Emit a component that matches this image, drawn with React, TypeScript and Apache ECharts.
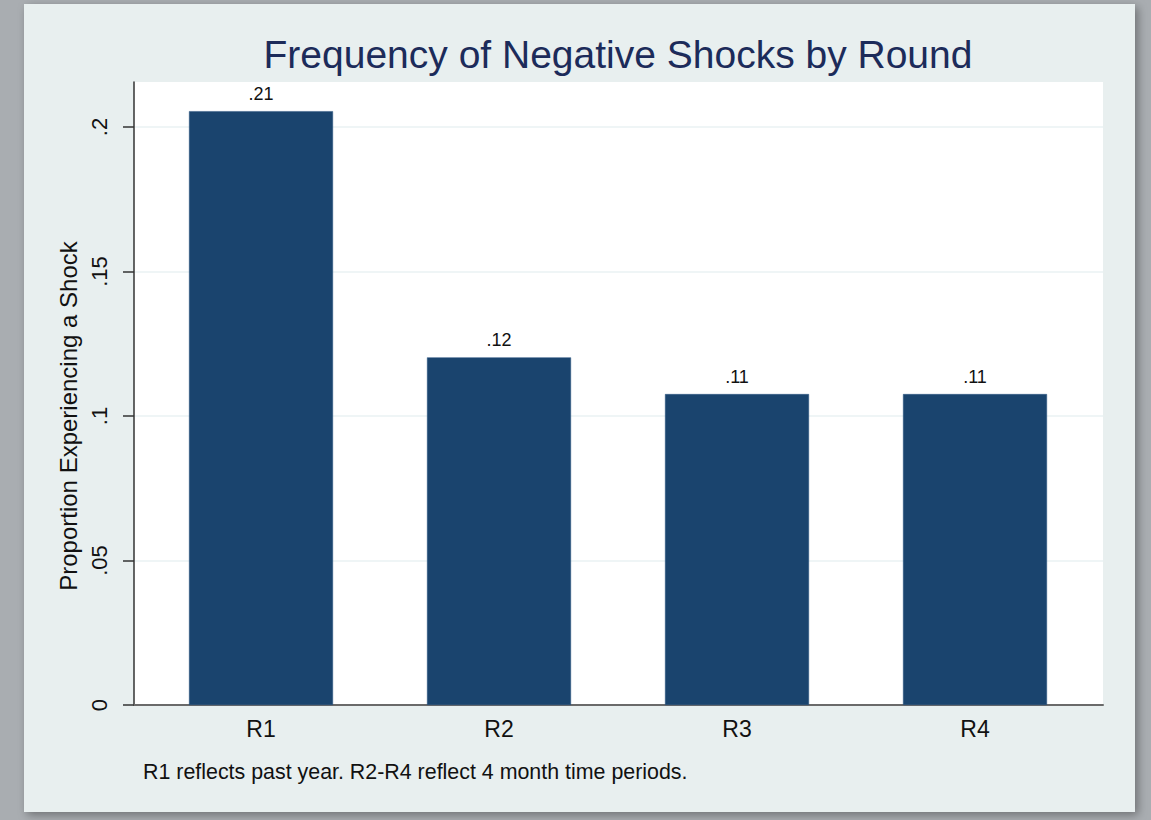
import React, { useEffect, useRef } from "react";
import * as echarts from "echarts";

const categories = ["R1", "R2", "R3", "R4"];
const shockShare = [0.2055, 0.1203, 0.1076, 0.1076];
const yTicks = [0, 0.05, 0.1, 0.15, 0.2];
const yAxisTop = 0.2156;
const titleText = "Frequency of Negative Shocks by Round";
const noteText = "R1 reflects past year. R2-R4 reflect 4 month time periods.";
const yName = "Proportion Experiencing a Shock";

const FONT = "'Liberation Sans', Arial, Helvetica, sans-serif";

const fmt = (v: number) => {
  const s = Number(v.toFixed(2)).toString();
  return s.replace(/^0\./, ".");
};

export default function App() {
  const ref = useRef<HTMLDivElement>(null);
  useEffect(() => {
    if (!ref.current) return;
    const chart = echarts.init(ref.current, undefined, { renderer: "svg" });
    const tickMax = yTicks[yTicks.length - 1];
    const tickStep = yTicks[1] - yTicks[0];
    chart.setOption({
      animation: false,
      backgroundColor: "#a9adb1",
      graphic: [
        {
          type: "rect",
          shape: { x: 24, y: 4, width: 1111, height: 808 },
          style: {
            fill: "#e8efef",
            shadowBlur: 10,
            shadowColor: "rgba(0,0,0,0.35)",
            shadowOffsetX: 3,
            shadowOffsetY: 3,
          },
          z: -10,
          silent: true,
        },
      ],
      title: [
        {
          text: titleText,
          left: 613,
          top: 30,
          textAlign: "center",
          textStyle: {
            fontFamily: FONT,
            fontSize: 39,
            fontWeight: "normal",
            color: "#1c2b5a",
          },
        },
        {
          text: noteText,
          left: 138,
          top: 756,
          textStyle: {
            fontFamily: FONT,
            fontSize: 21.4,
            fontWeight: "normal",
            color: "#111",
          },
        },
      ],
      grid: [
        {
          left: 134,
          top: 82,
          width: 969,
          height: 623,
          show: true,
          backgroundColor: "#ffffff",
          borderWidth: 0,
        },
        { left: 134, top: 127, width: 969, height: 578 },
        { left: 142, top: 82, width: 952, height: 623 },
      ],
      xAxis: [
        {
          gridIndex: 0,
          type: "value",
          min: 0,
          max: 1,
          axisLine: { show: true, lineStyle: { color: "#6a6a6a", width: 2 } },
          axisTick: { show: false },
          axisLabel: { show: false },
          splitLine: { show: false },
        },
        { gridIndex: 1, type: "value", min: 0, max: 1, show: false },
        {
          gridIndex: 2,
          type: "category",
          data: categories,
          axisLine: { show: false },
          axisTick: { show: false },
          axisLabel: {
            fontFamily: FONT,
            fontSize: 23,
            color: "#111",
            margin: 12,
          },
        },
      ],
      yAxis: [
        {
          gridIndex: 0,
          type: "value",
          min: 0,
          max: yAxisTop,
          axisLine: { show: true, lineStyle: { color: "#333", width: 1.5 } },
          axisTick: { show: false },
          axisLabel: { show: false },
          splitLine: { show: false },
        },
        {
          gridIndex: 1,
          type: "value",
          min: 0,
          max: tickMax,
          interval: tickStep,
          axisLine: { show: false },
          axisTick: {
            show: true,
            length: 11,
            lineStyle: { color: "#333", width: 1.5 },
          },
          axisLabel: {
            rotate: 90,
            margin: 24,
            fontFamily: FONT,
            fontSize: 22,
            color: "#111",
            formatter: (v: number) => fmt(v),
          },
          splitLine: { show: true, lineStyle: { color: "#eaf2f3", width: 1.5 } },
          name: yName,
          nameLocation: "middle",
          nameGap: 50,
          nameTextStyle: { fontFamily: FONT, fontSize: 24, color: "#111" },
        },
        { gridIndex: 2, type: "value", min: 0, max: yAxisTop, show: false },
      ],
      series: [
        {
          type: "bar",
          xAxisIndex: 2,
          yAxisIndex: 2,
          data: shockShare,
          barWidth: 144,
          itemStyle: { color: "#1a446e", borderColor: "#2a5580", borderWidth: 0.5 },
          label: {
            show: true,
            position: "top",
            distance: 8,
            fontFamily: FONT,
            fontSize: 18,
            color: "#111",
            formatter: (p: any) => fmt(p.value),
          },
        },
      ],
    });
    return () => chart.dispose();
  }, []);
  return (
    <div
      ref={ref}
      style={{ position: "absolute", left: 0, top: 0, width: 1151, height: 820 }}
    />
  );
}
